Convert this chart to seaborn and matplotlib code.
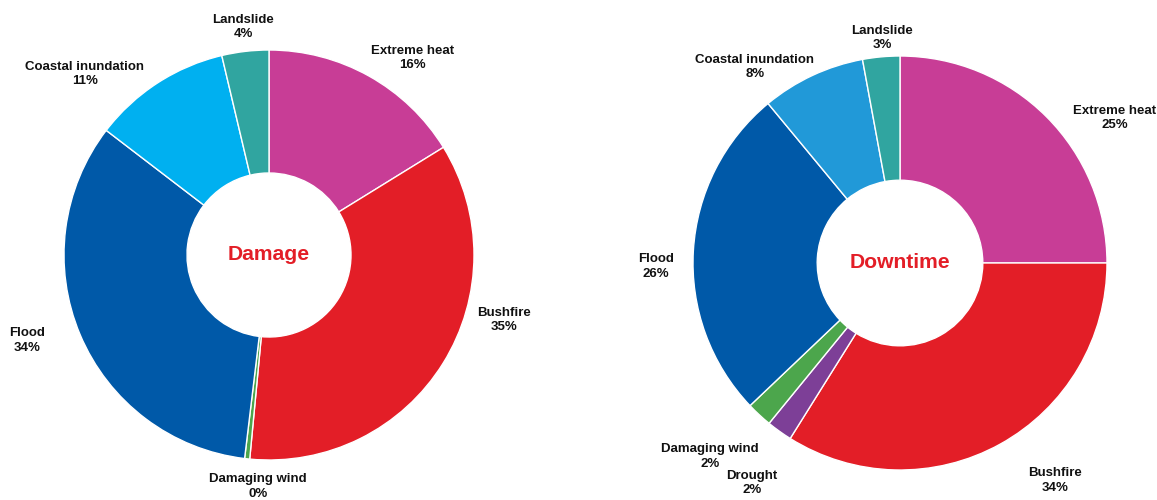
import matplotlib
matplotlib.use("Agg")
import matplotlib.pyplot as plt
import numpy as np
import seaborn as sns

sns.set_theme(style="white")
plt.rcParams["font.family"] = ["Liberation Sans", "DejaVu Sans"]

# Share of impact by hazard, clockwise from 12 o'clock
damage_hazards = ["Extreme heat", "Bushfire", "Damaging wind", "Flood",
                  "Coastal inundation", "Landslide"]
damage_values = [16.2, 35.3, 0.4, 33.5, 10.9, 3.7]
damage_labels = ["16%", "35%", "0%", "34%", "11%", "4%"]

downtime_hazards = ["Extreme heat", "Bushfire", "Drought", "Damaging wind",
                    "Flood", "Coastal inundation", "Landslide"]
downtime_values = [25.0, 33.9, 2.0, 2.0, 26.1, 8.1, 2.9]
downtime_labels = ["25%", "34%", "2%", "2%", "26%", "8%", "3%"]

hazard_colours = {
    "Extreme heat": "#C83D96",
    "Bushfire": "#E31E27",
    "Damaging wind": "#4CA64C",
    "Drought": "#7D3F97",
    "Flood": "#0059A8",
    "Landslide": "#30A5A0",
}
coastal_colours = {"Damage": "#00B0F0", "Downtime": "#2199D8"}

# label placement: (angle in degrees, radius in pie units)
damage_label_pos = [(54, 1.19), (-15.5, 1.19), (-92.7, 1.13), (199.5, 1.25),
                    (135.5, 1.26), (96.5, 1.12)]
downtime_label_pos = [(34.0, 1.25), (-54.5, 1.29), (-124.0, 1.28),
                      (-134.5, 1.31), (180.8, 1.18), (126.5, 1.18),
                      (94.6, 1.09)]

W, H = 1157, 500
fig = plt.figure(figsize=(W / 100, H / 100), dpi=100)
fig.patch.set_facecolor("white")


def place_axes(ax, x0, x1, cx, cy_top, radius):
    ax.set_position([x0 / W, 0, (x1 - x0) / W, 1])
    ax.set_aspect("auto")
    ax.set_xlim(-(cx - x0) / radius, (x1 - cx) / radius)
    cy = H - cy_top
    ax.set_ylim(-cy / radius, (H - cy) / radius)
    ax.set_axis_off()


def donut(ax, title, hazards, values, labels, positions):
    colours = [coastal_colours[title] if h == "Coastal inundation"
               else hazard_colours[h] for h in hazards]
    ax.pie(values, colors=colours, startangle=90, counterclock=False,
           radius=1.0,
           wedgeprops=dict(width=0.6, edgecolor="white", linewidth=1.0))
    for h, lab, (ang, r) in zip(hazards, labels, positions):
        a = np.deg2rad(ang)
        ax.text(r * np.cos(a), r * np.sin(a), f"{h}\n{lab}",
                ha="center", va="center", fontsize=9.5, fontweight="bold",
                color="#111111", linespacing=1.25, clip_on=False)
    ax.text(0, 0, title, ha="center", va="center", fontsize=15.2,
            fontweight="bold", color="#E31E27")


ax1 = fig.add_axes([0, 0, 0.5, 1])
donut(ax1, "Damage", damage_hazards, damage_values, damage_labels,
      damage_label_pos)
place_axes(ax1, 0, 540, 269, 255, 205)

ax2 = fig.add_axes([0.5, 0, 0.5, 1])
donut(ax2, "Downtime", downtime_hazards, downtime_values, downtime_labels,
      downtime_label_pos)
place_axes(ax2, 580, 1157, 900, 263, 207)

fig.savefig("out.png", dpi=100, facecolor="white")
